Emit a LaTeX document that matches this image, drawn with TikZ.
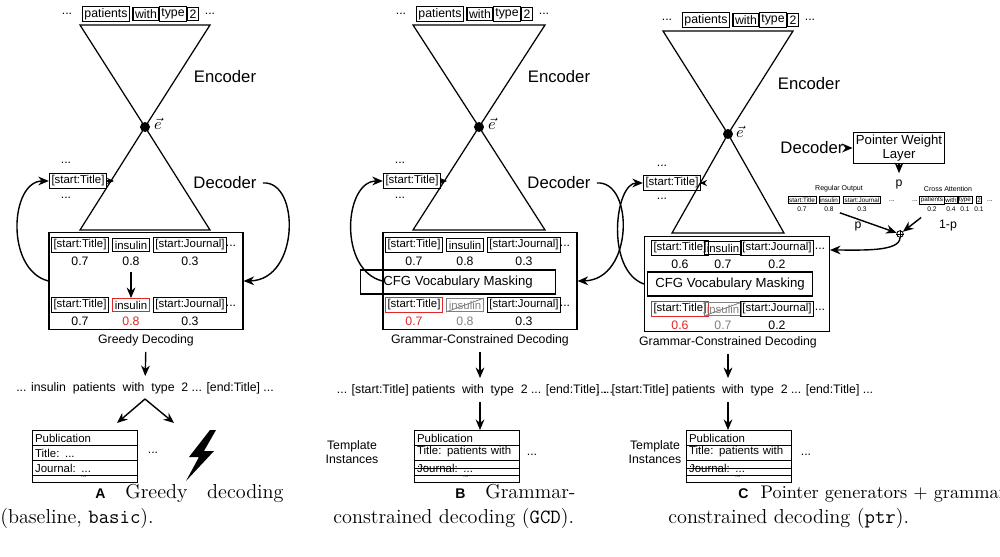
\documentclass[tikz,border=0pt]{standalone}
\usepackage{fontspec}
\newfontfamily\dsans{Liberation Sans}
\usetikzlibrary{arrows.meta}
\definecolor{myred}{RGB}{220,40,40}
\begin{document}
\begin{tikzpicture}[x=0.02cm,y=-0.02cm,
 tok/.style={draw,line width=0.7pt,inner sep=1.2pt,font=\dsans\fontsize{6.5}{7}\selectfont},
 ttok/.style={tok,font=\dsans\fontsize{7}{8}\selectfont},
 rtok/.style={tok,draw=myred},
 gtok/.style={tok,draw=gray,text=gray},
 num/.style={font=\dsans\fontsize{7}{8}\selectfont},
 lbl/.style={font=\dsans\fontsize{9.5}{11}\selectfont},
 sm/.style={font=\dsans\fontsize{7}{8}\selectfont},
 tiny/.style={draw,line width=0.5pt,inner sep=0.6pt,font=\dsans\fontsize{3.6}{4}\selectfont},
 tnum/.style={font=\dsans\fontsize{3.8}{4}\selectfont},
 frame/.style={draw,line width=0.7pt},
 trow/.style={frame,anchor=north west,minimum width=2.1cm,minimum height=0.3cm,inner sep=0.6pt,font=\dsans\fontsize{6.5}{7}\selectfont,text width=2.0cm},
 tlast/.style={frame,anchor=north west,minimum width=2.1cm,minimum height=0.14cm,inner sep=0pt},
 arr/.style={-{Stealth[length=6pt,width=5pt]},line width=0.8pt},
 captxt/.style={font=\fontsize{11.5}{13}\selectfont,anchor=base west,inner sep=0}]
\useasboundingbox (0,0) rectangle (1000,557);
% ================= Panel A =================
\node[sm] (ad1) at (67,14) {...};
\node[ttok] (ap) at (106,14) {patients};
\node[ttok] (aw) at (146,14) {with};
\node[ttok] (at) at (173,14) {type};
\node[ttok] (a2) at (193,14) {2};
\node[sm] (ad2) at (210,14) {...};
\coordinate (aTL) at (80,25); \coordinate (aTR) at (210,25);
\node[circle,fill,inner sep=2pt] (ae) at (145,127) {};
\coordinate (aBL) at (80,230); \coordinate (aBR) at (210,230);
\draw[line width=0.7pt] (aTL)--(aTR)--(ae.center)--cycle;
\draw[line width=0.7pt] (ae.center)--(aBL)--(aBR)--cycle;
\node[lbl] (aev) at (158,124) {$\vec{e}$};
\node[lbl] (aenc) at (225,77) {Encoder};
\node[lbl] (adec) at (225,183) {Decoder};
\node[tok] (ast) at (78,181) {[start:Title]};
\node[sm] (adu) at (66,163) {...};
\node[sm] (add) at (66,198) {...};
\coordinate (aedge) at (114,181);
\draw[arr,-{Stealth[length=4pt,width=3.5pt]}] (ast)--(aedge);
\node[frame,minimum width=3.88cm,minimum height=1.94cm] (abox) at (146,281) {};
\node[tok] (a11) at (80,245) {[start:Title]};
\node[tok] (a12) at (131,245) {insulin};
\node[tok] (a13) at (190,245) {[start:Journal]};
\node[sm] (a14) at (231,246) {...};
\node[num] (n11) at (80,261) {0.7};
\node[num] (n12) at (131,261) {0.8};
\node[num] (n13) at (190,261) {0.3};
\node[tok] (a21) at (80,305) {[start:Title]};
\node[rtok] (a22) at (131,305) {insulin};
\node[tok] (a23) at (190,305) {[start:Journal]};
\node[sm] (a24) at (231,306) {...};
\node[num] (n21) at (80,321) {0.7};
\node[num,text=myred] (n22) at (131,321) {0.8};
\node[num] (n23) at (190,321) {0.3};
\draw[arr] (n12)--(a22);
\node[sm] (agd) at (146,340) {Greedy Decoding};
\node[sm] (aout) at (145,388) {... insulin\ \ patients\ \ with\ \ type\ \ 2 ... [end:Title] ...};
\draw[arr] (agd)--(aout);
\coordinate (asplit) at (145,399);
\coordinate (al) at (117,423); \coordinate (ar) at (174,423);
\draw[arr] (asplit)--(al); \draw[arr] (asplit)--(ar);
\draw[arr] (abox.west) .. controls (5,270) and (10,181) .. (ast.west);
\draw[arr] (adec.east) .. controls (300,180) and (300,280) .. (abox.east);
\node[trow] (ta1) at (32,430) {Publication};
\node[trow] (ta2) at (32,445) {Title: ...};
\node[trow] (ta3) at (32,460) {Journal: ...};
\node[tlast] (ta4) at (32,475) {};
\node[tnum] (ta4t) at (84,477.5) {...};
\node[sm] (adots) at (153,453) {...};
\fill (210,430)--(189,457)--(199,457)--(186,481)--(214,451)--(204,451)--(216,430)--cycle;
% ================= Panel B =================
\node[sm] (bd1) at (401,14) {...};
\node[ttok] (bp) at (440,14) {patients};
\node[ttok] (bw) at (480,14) {with};
\node[ttok] (bt) at (507,14) {type};
\node[ttok] (b2) at (527,14) {2};
\node[sm] (bd2) at (544,14) {...};
\coordinate (bTL) at (413,25); \coordinate (bTR) at (545,25);
\node[circle,fill,inner sep=2pt] (be) at (479,127) {};
\coordinate (bBL) at (413,230); \coordinate (bBR) at (545,230);
\draw[line width=0.7pt] (bTL)--(bTR)--(be.center)--cycle;
\draw[line width=0.7pt] (be.center)--(bBL)--(bBR)--cycle;
\node[lbl] (bev) at (492,124) {$\vec{e}$};
\node[lbl] (benc) at (559,77) {Encoder};
\node[lbl] (bdec) at (559,183) {Decoder};
\node[tok] (bst) at (412,181) {[start:Title]};
\node[sm] (bdu) at (400,163) {...};
\node[sm] (bdd) at (400,198) {...};
\coordinate (bedge) at (447,181);
\draw[arr,-{Stealth[length=4pt,width=3.5pt]}] (bst)--(bedge);
\node[frame,minimum width=3.88cm,minimum height=1.94cm] (bbox) at (480,281) {};
\node[tok] (b11) at (414,245) {[start:Title]};
\node[tok] (b12) at (465,245) {insulin};
\node[tok] (b13) at (524,245) {[start:Journal]};
\node[sm] (b14) at (565,246) {...};
\node[num] (m11) at (414,261) {0.7};
\node[num] (m12) at (465,261) {0.8};
\node[num] (m13) at (524,261) {0.3};
\node[frame,minimum width=3.9cm,minimum height=0.4cm,font=\dsans\fontsize{7.5}{8}\selectfont] (bcfg) at (458,282) {CFG Vocabulary Masking};
\node[rtok] (b21) at (414,305) {[start:Title]};
\node[gtok] (b22) at (465,305) {insulin};
\draw[gray,line width=0.5pt] (b22.south west)--(b22.north east);
\node[tok] (b23) at (524,305) {[start:Journal]};
\node[sm] (b24) at (565,306) {...};
\node[num,text=myred] (m21) at (414,321) {0.7};
\node[num,text=gray] (m22) at (465,321) {0.8};
\node[num] (m23) at (524,321) {0.3};
\node[sm] (bgd) at (480,340) {Grammar-Constrained Decoding};
\node[sm] (bout) at (475,390) {... [start:Title] patients\ \ with\ \ type\ \ 2 ... [end:Title] ...};
\draw[arr] (bgd)--(bgd|-bout.north);
\draw[arr] (bbox.west) .. controls (338,270) and (344,181) .. (bst.west);
\draw[arr] (bdec.east) .. controls (634,180) and (634,280) .. (bbox.east);
\node[sm,align=center] (bti) at (352,452) {Template\\Instances};
\node[trow] (tb1) at (414,430) {Publication};
\node[trow] (tb2) at (414,445) {Title: patients with ...};
\node[trow] (tb3) at (414,460) {Journal: ...};
\node[tlast] (tb4) at (414,475) {};
\node[tnum] (tb4t) at (466,477.5) {...};
\draw[arr] (bgd|-bout.south)--(bgd|-tb1.north);
\node[sm] (bdots) at (532,455) {...};
% ================= Panel C =================
\node[sm] (cd1) at (667,20) {...};
\node[ttok] (cp) at (706,20) {patients};
\node[ttok] (cw) at (746,20) {with};
\node[ttok] (ct) at (773,20) {type};
\node[ttok] (c2) at (793,20) {2};
\node[sm] (cd2) at (810,20) {...};
\coordinate (cTL) at (663,31); \coordinate (cTR) at (793,31);
\node[circle,fill,inner sep=2pt] (ce) at (728,134) {};
\coordinate (cBL) at (672,233); \coordinate (cBR) at (784,233);
\draw[line width=0.7pt] (cTL)--(cTR)--(ce.center)--cycle;
\draw[line width=0.7pt] (ce.center)--(cBL)--(cBR)--cycle;
\node[lbl] (cev) at (740,132) {$\vec{e}$};
\node[lbl] (cenc) at (809,84) {Encoder};
\node[lbl] (cdec) at (812,148) {Decoder};
\node[tok] (cst) at (672,183) {[start:Title]};
\node[sm] (cdu) at (662,166) {...};
\node[sm] (cdd) at (662,199) {...};
\coordinate (cedge) at (700,183);
\draw[arr,-{Stealth[length=4pt,width=3.5pt]}] (cst)--(cedge);
\node[draw,line width=0.7pt,align=center,inner sep=1.5pt,font=\dsans\fontsize{7.5}{8}\selectfont] (cpw) at (899,148) {Pointer Weight\\Layer};
\draw[arr] (cdec)--(cpw);
\node[sm] (cpp) at (899,184) {p};
\draw[arr] (cpw)--(cpp);
\node[font=\dsans\fontsize{4}{5}\selectfont] (cro) at (839,189) {Regular Output};
\node[tiny] (r1) at (802,200) {start:Title};
\node[tiny] (r2) at (829,200) {insulin};
\node[tiny] (r3) at (862,200) {start:Journal};
\node[tnum] (r4) at (892,201) {...};
\node[tnum] (rn1) at (802,209) {0.7};
\node[tnum] (rn2) at (829,209) {0.8};
\node[tnum] (rn3) at (862,209) {0.3};
\node[font=\dsans\fontsize{4}{5}\selectfont] (cca) at (948,189) {Cross Attention};
\node[tnum] (x0) at (915,201) {...};
\node[tiny] (x1) at (932,200) {patients};
\node[tiny] (x2) at (951,200) {with};
\node[tiny] (x3) at (965,200) {type};
\node[tiny] (x4) at (979,200) {2};
\node[tnum] (x5) at (990,201) {...};
\node[tnum] (xn1) at (932,209) {0.2};
\node[tnum] (xn2) at (951,209) {0.4};
\node[tnum] (xn3) at (965,209) {0.1};
\node[tnum] (xn4) at (979,209) {0.1};
\node[circle,draw,inner sep=1.3pt,line width=0.5pt] (cplus) at (900,234) {};
\draw[line width=0.4pt] (cplus.north)--(cplus.south) (cplus.west)--(cplus.east);
\draw[arr] (rn2)--(cplus);
\draw[arr] (xn1)--(cplus);
\node[sm] (lp) at (858,226) {p};
\node[sm] (l1p) at (948,226) {1-p};
\node[frame,minimum width=3.7cm,minimum height=1.9cm] (cbox) at (737,284) {};
\coordinate (cin) at (830,250);
\draw[arr] (cplus.south) .. controls (900,252) and (860,250) .. (cin);
\node[tok] (c11) at (680,248) {[start:Title]};
\node[tok] (c12) at (723,248) {insulin};
\node[tok] (c13) at (777,248) {[start:Journal]};
\node[sm] (c14) at (820,249) {...};
\node[num] (k11) at (680,264) {0.6};
\node[num] (k12) at (723,264) {0.7};
\node[num] (k13) at (777,264) {0.2};
\node[frame,minimum width=3.3cm,minimum height=0.42cm,font=\dsans\fontsize{7.5}{8}\selectfont] (ccfg) at (730,284) {CFG Vocabulary Masking};
\node[rtok] (c21) at (680,309) {[start:Title]};
\node[gtok] (c22) at (723,309) {insulin};
\draw[gray,line width=0.5pt] (c22.south west)--(c22.north east);
\node[tok] (c23) at (777,309) {[start:Journal]};
\node[sm] (c24) at (820,310) {...};
\node[num,text=myred] (k21) at (680,325) {0.6};
\node[num,text=gray] (k22) at (723,325) {0.7};
\node[num] (k23) at (777,325) {0.2};
\node[sm] (cgd) at (728,342) {Grammar-Constrained Decoding};
\node[sm] (cout) at (735,390) {... [start:Title] patients\ \ with\ \ type\ \ 2 ... [end:Title] ...};
\draw[arr] (cgd)--(cgd|-cout.north);
\draw[arr] (cbox.west) .. controls (605,270) and (615,183) .. (cst.west);
\node[sm,align=center] (cti) at (655,452) {Template\\Instances};
\node[trow] (tc1) at (686,430) {Publication};
\node[trow] (tc2) at (686,445) {Title: patients with ...};
\node[trow] (tc3) at (686,460) {Journal: ...};
\node[tlast] (tc4) at (686,475) {};
\node[tnum] (tc4t) at (738,477.5) {...};
\draw[arr] (cgd|-cout.south)--(cgd|-tc1.north);
\node[sm] (cdots) at (806,455) {...};
% ================= Captions =================
\node[captxt] (capa1) at (95,498) {{\dsans\bfseries\fontsize{8}{9}\selectfont A}\ \ \ Greedy\ \ \ decoding};
\node[captxt] (capa2) at (0,523) {(baseline, \texttt{basic}).};
\node[captxt] (capb1) at (455,498) {{\dsans\bfseries\fontsize{8}{9}\selectfont B}\ \ \ Grammar-};
\node[captxt] (capb2) at (333,523) {constrained decoding (\texttt{GCD}).};
\node[captxt,font=\fontsize{10.4}{13}\selectfont] (capc1) at (738,498) {{\dsans\bfseries\fontsize{8}{9}\selectfont C}\ \ Pointer generators + grammar-};
\node[captxt] (capc2) at (668,523) {constrained decoding (\texttt{ptr}).};
\end{tikzpicture}
\end{document}
